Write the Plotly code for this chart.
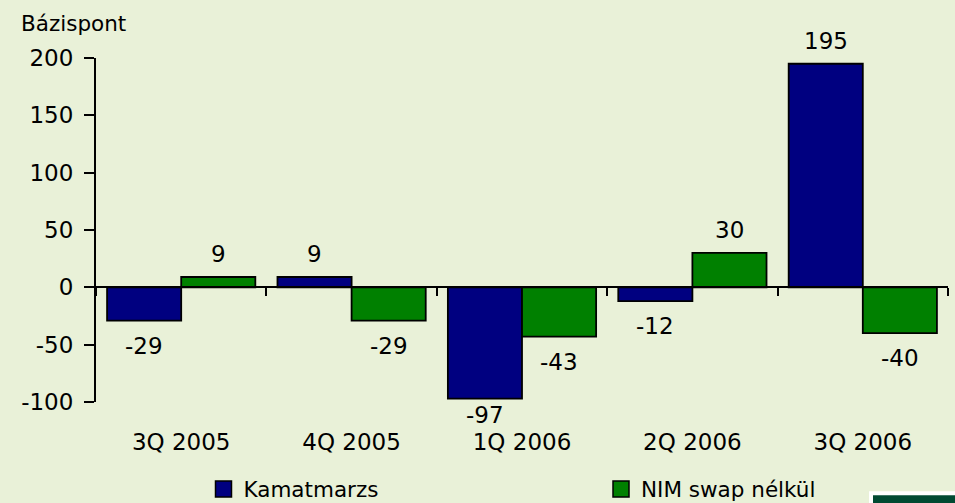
import plotly.graph_objects as go

categories = ["3Q 2005", "4Q 2005", "1Q 2006", "2Q 2006", "3Q 2006"]
kamatmarzs = [-29, 9, -97, -12, 195]
nim_swap_nelkul = [9, -29, -43, 30, -40]
series_names = ["Kamatmarzs", "NIM swap nélkül"]
y_ticks = [-100, -50, 0, 50, 100, 150, 200]
y_tick_text = [str(t) for t in y_ticks]
y_title = "Bázispont"

BG = "#E9F1D8"
BLUE = "#000080"
GREEN = "#008000"
FONT = "DejaVu Sans"
FS_NUM = 23
FS_TXT = 21.5
YMIN, YMAX = -100, 200

# plot area in pixels
PL, PR, PT, PB = 96, 948, 57.5, 402.5
PW, PH = PR - PL, PB - PT
PPU = PH / (YMAX - YMIN)


def px_x(p):
    return (p - PL) / PW


def px_y(p):
    return (PB - p) / PH


fig = go.Figure()
for name, vals, col in ((series_names[0], kamatmarzs, BLUE), (series_names[1], nim_swap_nelkul, GREEN)):
    fig.add_trace(go.Bar(x=categories, y=vals, name=name, showlegend=False, legendgroup=name,
                         marker=dict(color=col, line=dict(color="black", width=1.8))))
# legend entries with larger square keys (no data)
for name, col in ((series_names[0], BLUE), (series_names[1], GREEN)):
    fig.add_trace(go.Scatter(x=[None], y=[None], name=name, mode="markers", legendgroup=name,
                             marker=dict(symbol="square", size=16, color=col,
                                         line=dict(color="black", width=1.5)),
                             hoverinfo="skip"))
# helper trace (no data) so the zero-line axis with boundary ticks is drawn
fig.add_trace(go.Bar(x=categories, y=[None] * len(categories), xaxis="x2",
                     showlegend=False, hoverinfo="skip"))

# data labels (outside end, kept inside the chart near the bottom)
LOWEST_PX = 415
for vals, shift in ((kamatmarzs, -37), (nim_swap_nelkul, 37)):
    for c, v in zip(categories, vals):
        if v >= 0:
            ys = 23
        else:
            end_px = PB - (v - YMIN) * PPU
            ys = -(min(end_px + 25, LOWEST_PX) - end_px)
        fig.add_annotation(x=c, y=v, xshift=shift, yshift=ys, text=str(v), showarrow=False,
                           yanchor="middle", font=dict(family=FONT, size=FS_NUM, color="black"))

fig.add_annotation(text=y_title, xref="paper", yref="paper", x=px_x(19), y=px_y(23),
                   xanchor="left", yanchor="middle", showarrow=False,
                   font=dict(family=FONT, size=FS_TXT, color="black"))

# corner decoration (bottom right)
fig.add_shape(type="rect", xref="paper", yref="paper", x0=px_x(869), x1=px_x(960),
              y0=px_y(510), y1=px_y(492), fillcolor="white", line_width=0, layer="below")
fig.add_shape(type="rect", xref="paper", yref="paper", x0=px_x(873), x1=px_x(960),
              y0=px_y(510), y1=px_y(496), fillcolor="#004A32", line_width=0, layer="below")

fig.update_layout(
    width=955, height=503,
    margin=dict(l=PL, r=955 - PR, t=PT, b=503 - PB),
    paper_bgcolor=BG, plot_bgcolor=BG,
    barmode="group", bargap=0.13, bargroupgap=0,
    font=dict(family=FONT, size=FS_TXT, color="black"),
    showlegend=True,
    legend=dict(orientation="h", xref="container", yref="container",
                x=203.5 / 955, y=1 - 489 / 503, xanchor="left", yanchor="middle",
                entrywidthmode="pixels", entrywidth=352.5, bgcolor="rgba(0,0,0,0)",
                font=dict(family=FONT, size=FS_TXT, color="black"), itemwidth=30),
    xaxis=dict(type="category", categoryarray=categories, range=[-0.5, 4.5],
               showline=False, showgrid=False,
               zeroline=False, ticks="", ticklabelstandoff=24,
               tickfont=dict(family=FONT, size=FS_NUM, color="black")),
    xaxis2=dict(type="category", overlaying="x", anchor="free",
                position=(0 - YMIN) / (YMAX - YMIN), range=[-0.5, 4.5],
                showline=True, linecolor="black", linewidth=2,
                ticks="outside", tickson="boundaries", ticklen=8, tickwidth=1.5,
                tickcolor="black", showticklabels=False, showgrid=False, zeroline=False),
    yaxis=dict(range=[YMIN, YMAX], tickvals=y_ticks, ticktext=y_tick_text,
               showgrid=False, zeroline=False,
               showline=True, linecolor="black", linewidth=2,
               ticks="outside", ticklen=10, tickwidth=2, tickcolor="black",
               ticklabelstandoff=6,
               tickfont=dict(family=FONT, size=FS_NUM, color="black")),
)

fig.write_html("out.html", config={"displayModeBar": False},
               post_script="document.body.style.margin='0';document.body.style.overflow='hidden';")
